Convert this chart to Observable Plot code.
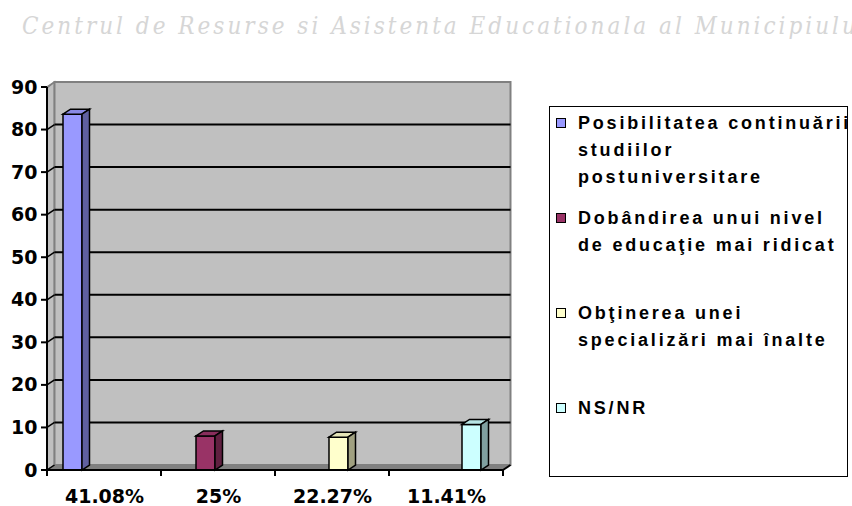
<!DOCTYPE html>
<html>
<head>
<meta charset="utf-8">
<script src="https://cdn.jsdelivr.net/npm/d3@7"></script>
<script src="https://cdn.jsdelivr.net/npm/@observablehq/plot@0.6"></script>
<style>
  html, body { margin: 0; padding: 0; background: #fff; }
  #wrap { position: relative; width: 852px; height: 506px; overflow: hidden; }
  #header { position: absolute; left: 22px; top: 12px; white-space: nowrap;
    font-family: "DejaVu Serif Condensed", "DejaVu Serif", serif; font-style: italic;
    font-size: 24px; letter-spacing: 3px; color: #d6d6d6; }
  #chart { position: absolute; left: 0; top: 60px; }
  #legend { position: absolute; left: 549px; top: 106px; width: 297px; height: 369px;
    border: 1.5px solid #000; overflow: hidden; background: #fff;
    font-family: "Liberation Sans", Arial, sans-serif; font-weight: bold; font-size: 18px; letter-spacing: 2.8px; color: #000; }
  .entry { position: absolute; left: 0; white-space: nowrap; line-height: 27px; }
  .sw { position: absolute; left: 6px; top: 8px; width: 8px; height: 8px; border: 1.5px solid #000; }
  .txt { position: absolute; left: 28px; top: 0; }
</style>
</head>
<body>
<div id="wrap">
  <div id="header"></div>
  <div id="chart"></div>
  <div id="legend"></div>
</div>
<script>
const headerText = "Centrul de Resurse si Asistenta Educationala al Municipiului";
const categories = ["41.08%", "25%", "22.27%", "11.41%"];
const series = [
  "Posibilitatea continuării studiilor postuniversitare",
  "Dobândirea unui nivel de educaţie mai ridicat",
  "Obţinerea unei specializări mai înalte",
  "NS/NR"
];
const legendLines = [
  ["Posibilitatea continuării", "studiilor", "postuniversitare"],
  ["Dobândirea unui nivel", "de educaţie mai ridicat"],
  ["Obţinerea unei", "specializări mai înalte"],
  ["NS/NR"]
];
const values = [83.6, 8.0, 7.7, 10.7];
const colors = ["#9999ff", "#993366", "#ffffcc", "#ccffff"];
const yTicks = [0, 10, 20, 30, 40, 50, 60, 70, 80, 90];

const data = series.map((s, i) => ({category: categories[i], series: s, value: values[i]}));

// 3D depth offset (pixels)
const DX = 7.5, DY = -5;

document.getElementById("header").textContent = headerText;

function poly(g, pts, fill, stroke, sw) {
  g.append("polygon")
    .attr("points", pts.map(p => p.join(",")).join(" "))
    .attr("fill", fill)
    .attr("stroke", stroke)
    .attr("stroke-width", sw);
}
function line(g, x1, y1, x2, y2, stroke, sw) {
  g.append("line").attr("x1", x1).attr("y1", y1).attr("x2", x2).attr("y2", y2)
    .attr("stroke", stroke).attr("stroke-width", sw);
}

function wallRender(index, scales, values, dim) {
  const y = scales.y;
  const x0 = dim.marginLeft, x1 = dim.width - dim.marginRight;
  const yb = y(yTicks[0]), yt = y(yTicks[yTicks.length - 1]);
  const g = d3.create("svg:g");
  poly(g, [[x0, yb], [x0, yt], [x0 + DX, yt + DY], [x0 + DX, yb + DY]], "#c0c0c0", "#808080", 1.5);
  g.append("rect").attr("x", x0 + DX).attr("y", yt + DY).attr("width", x1 - x0).attr("height", yb - yt)
    .attr("fill", "#c0c0c0").attr("stroke", "#808080").attr("stroke-width", 2);
  poly(g, [[x0, yb], [x1, yb], [x1 + DX, yb + DY], [x0 + DX, yb + DY]], "#808080", "#808080", 1);
  for (const t of yTicks.slice(1, -1)) {
    const yy = y(t);
    line(g, x0 + DX, yy + DY, x1 + DX, yy + DY, "#000", 2);
    line(g, x0, yy, x0 + DX, yy + DY, "#000", 1.5);
  }
  line(g, x0, yb, x0 + DX, yb + DY, "#000", 1.5);
  return g.node();
}

function axesRender(index, scales, values, dim) {
  const y = scales.y, fx = scales.fx;
  const x0 = dim.marginLeft, x1 = dim.width - dim.marginRight;
  const yb = y(yTicks[0]), yt = y(yTicks[yTicks.length - 1]);
  const g = d3.create("svg:g");
  line(g, x0, yt + 1, x0 + DX, yt + DY, "#808080", 1.5);
  line(g, x0, yt, x0, yb + 6, "#000", 2);
  for (const t of yTicks) line(g, x0 - 6, y(t), x0, y(t), "#000", 2);
  line(g, x0, yb, x1, yb, "#000", 2);
  const bounds = categories.map((c, k) => fx ? fx(c) : x0 + k * (x1 - x0) / categories.length).concat([x1]);
  for (const bx of bounds) line(g, bx, yb, bx, yb + 6, "#000", 2);
  line(g, x1, yb, x1 + DX, yb + DY, "#000", 2);
  return g.node();
}

function bar3d(index, scales, values, dim, context, next) {
  const g = next(index, scales, values, dim, context);
  d3.select(g).selectAll("rect").each(function () {
    const r = d3.select(this);
    const x = +r.attr("x"), yy = +r.attr("y"), w = +r.attr("width"), h = +r.attr("height");
    const c = d3.color(r.attr("fill"));
    const holder = d3.select(this.parentNode);
    poly(holder, [[x, yy], [x + DX, yy + DY], [x + w + DX, yy + DY], [x + w, yy]], c.darker(0.3).formatHex(), "#000", 1.5);
    poly(holder, [[x + w, yy], [x + w + DX, yy + DY], [x + w + DX, yy + h + DY], [x + w, yy + h]], c.darker(1.3).formatHex(), "#000", 1.5);
  });
  return g;
}

const plot = Plot.plot({
  width: 530,
  height: 446,
  marginLeft: 47,
  marginRight: 27,
  marginTop: 27,
  marginBottom: 36,
  style: {fontFamily: "DejaVu Sans", fontWeight: "bold", fontSize: "19px", color: "#000", background: "transparent", overflow: "visible"},
  fx: {domain: categories, padding: 0, axis: null, label: null},
  x: {domain: series, paddingInner: 0, paddingOuter: 1, align: 0.42, axis: null},
  y: {domain: [0, 90], axis: null},
  color: {domain: series, range: colors},
  marks: [
    Plot.frame({facet: "super", render: wallRender}),
    Plot.barY(data, {fx: "category", x: "series", y: "value", fill: "series", stroke: "#000", strokeWidth: 1.5, render: bar3d}),
    Plot.frame({facet: "super", render: axesRender}),
    Plot.axisY(yTicks, {tickSize: 0, tickPadding: 10, tickFormat: d => String(d), label: null, fontSize: 19, fontWeight: "bold"}),
    Plot.axisFx({anchor: "bottom", tickSize: 0, tickPadding: 19, label: null, fontSize: 19, fontWeight: "bold"})
  ]
});
document.getElementById("chart").appendChild(plot);

const legend = d3.select("#legend");
legendLines.forEach((lines, i) => {
  const e = legend.append("div").attr("class", "entry").style("top", (3 + i * 95) + "px");
  e.append("div").attr("class", "sw").style("background", colors[i]);
  e.append("div").attr("class", "txt").html(lines.join("<br>"));
});
</script>
</body>
</html>
